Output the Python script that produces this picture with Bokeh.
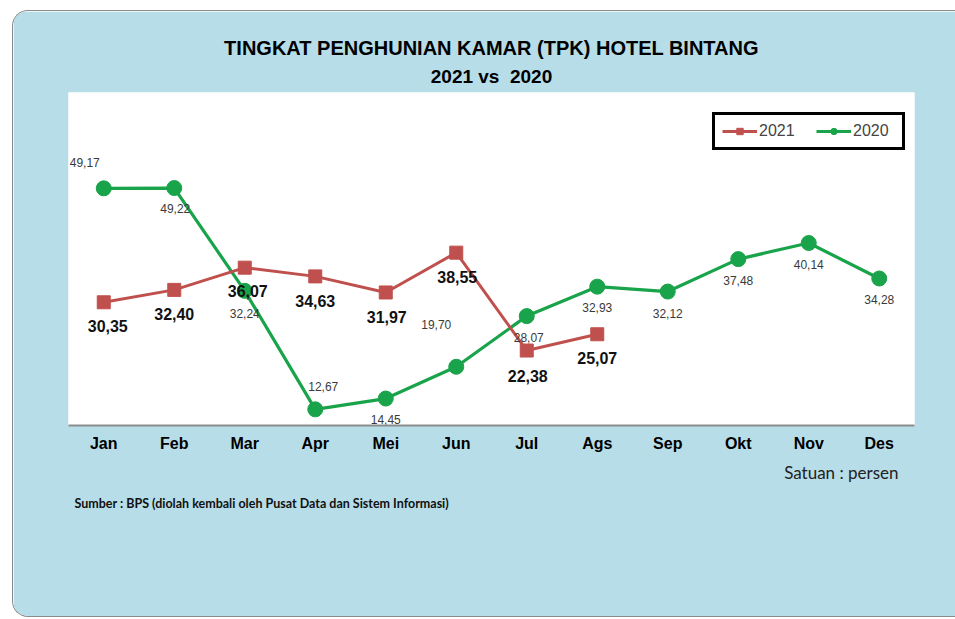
from bokeh.plotting import figure
from bokeh.models import ColumnDataSource, Legend, LegendItem, Title, Spacer
from bokeh.layouts import column, row
from bokeh.core.properties import value
from bokeh.embed import file_html
from bokeh.resources import INLINE

# ---- data ----
months = ["Jan", "Feb", "Mar", "Apr", "Mei", "Jun", "Jul", "Ags", "Sep", "Okt", "Nov", "Des"]
tpk_2020 = [49.17, 49.22, 32.24, 12.67, 14.45, 19.70, 28.07, 32.93, 32.12, 37.48, 40.14, 34.28]
tpk_2021 = [30.35, 32.40, 36.07, 34.63, 31.97, 38.55, 22.38, 25.07]
months_2021 = months[:len(tpk_2021)]

title_1 = "TINGKAT PENGHUNIAN KAMAR (TPK) HOTEL BINTANG"
title_2 = "2021 vs \u00a02020"
unit_note = "Satuan : persen"
source_note = "Sumber : BPS (diolah kembali oleh Pusat Data dan Sistem Informasi)"

# ---- label offsets (style only, screen pixels; y down) ----
off_2020_x = [-19, 1, 0, 8, 0, -20, 2, 0, 0, 0, 0, 0]
off_2020_y = [-26, 20, 23, -23, 21, -42, 21, 21, 22, 21, 21, 21]
off_2021_x = [4, 0, 3, 0, 1, 1, 1, 0]
off_2021_y = [24, 24, 23, 25, 25, 24, 25, 24]

def fmt(v):
    return f"{v:.2f}".replace(".", ",")

GREEN = "#19a34a"
RED = "#c0504d"
BLUE = "#b7dde8"

src20 = ColumnDataSource(dict(x=months, y=tpk_2020, t=[fmt(v) for v in tpk_2020],
                              dx=off_2020_x, dy=off_2020_y))
src21 = ColumnDataSource(dict(x=months_2021, y=tpk_2021, t=[fmt(v) for v in tpk_2021],
                              dx=off_2021_x, dy=off_2021_y))

p = figure(width=943, height=607, x_range=months, y_range=(10, 65),
           output_backend="svg", toolbar_location=None,
           min_border_left=55, min_border_right=42, min_border_top=81, min_border_bottom=193)
p.background_fill_color = "white"
p.border_fill_color = BLUE
p.outline_line_color = None
p.grid.visible = False
p.yaxis.visible = False
p.styles = {"border-top": "1px solid #8a8a8a", "border-left": "1px solid #8a8a8a",
            "border-bottom": "1px solid #8a8a8a",
            "border-radius": "16px 0 0 16px", "overflow": "hidden"}

ax = p.xaxis[0]
ax.axis_line_color = "#8c8c8c"
ax.axis_line_width = 2
ax.major_tick_line_color = None
ax.minor_tick_line_color = None
ax.major_label_standoff = 3
ax.major_label_text_font = "Liberation Sans"
ax.major_label_text_font_style = "bold"
ax.major_label_text_font_size = "16px"
ax.major_label_text_color = "black"

# series
l20 = p.line("x", "y", source=src20, line_color=GREEN, line_width=3.2)
s20 = p.scatter("x", "y", source=src20, marker="circle", size=15, fill_color=GREEN, line_color=GREEN)
l21 = p.line("x", "y", source=src21, line_color=RED, line_width=3)
s21 = p.scatter("x", "y", source=src21, marker="square", size=13, fill_color=RED, line_color=RED)

p.text("x", "y", text="t", source=src20, x_offset="dx", y_offset="dy",
       text_font=value("Liberation Sans"), text_font_size="12px", text_color="#3a3a3a",
       text_align="center", text_baseline="middle")
p.text("x", "y", text="t", source=src21, x_offset="dx", y_offset="dy",
       text_font=value("Liberation Sans"), text_font_size="16px", text_font_style="bold",
       text_color="#111111", text_align="center", text_baseline="middle")

# titles (the default title sits farthest from the frame)
p.title.text = title_1
p.title.align = "center"
p.title.text_font = "Liberation Sans"
p.title.text_font_style = "bold"
p.title.text_font_size = "20px"
p.title.text_color = "black"
p.title.standoff = 0
p.add_layout(Title(text=title_2, align="center", text_font="Liberation Sans",
                   text_font_style="bold", text_font_size="19px", text_color="black",
                   standoff=11), "above")

# notes below the axis
p.add_layout(Title(text=unit_note, align="right", offset=16, text_font="Lato",
                   text_font_style="normal", text_font_size="17px", text_color="#222222",
                   standoff=10), "below")
p.add_layout(Title(text=source_note, align="left", offset=6, text_font="Lato",
                   text_font_style="bold", text_font_size="12.5px", text_color="#111111",
                   standoff=13), "below")

legend = Legend(items=[LegendItem(label="2021", renderers=[l21, s21]),
                       LegendItem(label="2020", renderers=[l20, s20])],
                orientation="horizontal", location=(644, 275),
                border_line_color="black", border_line_width=3, border_line_alpha=1,
                background_fill_color="white", background_fill_alpha=1,
                label_text_font="Liberation Sans", label_text_font_size="16px",
                glyph_width=35, glyph_height=16, label_height=16, label_width=42,
                label_standoff=2, spacing=15, padding=7, margin=0)
p.add_layout(legend)

layout = column(Spacer(height=10), row(Spacer(width=12), p))
open("out.html", "w").write(file_html(layout, INLINE))
